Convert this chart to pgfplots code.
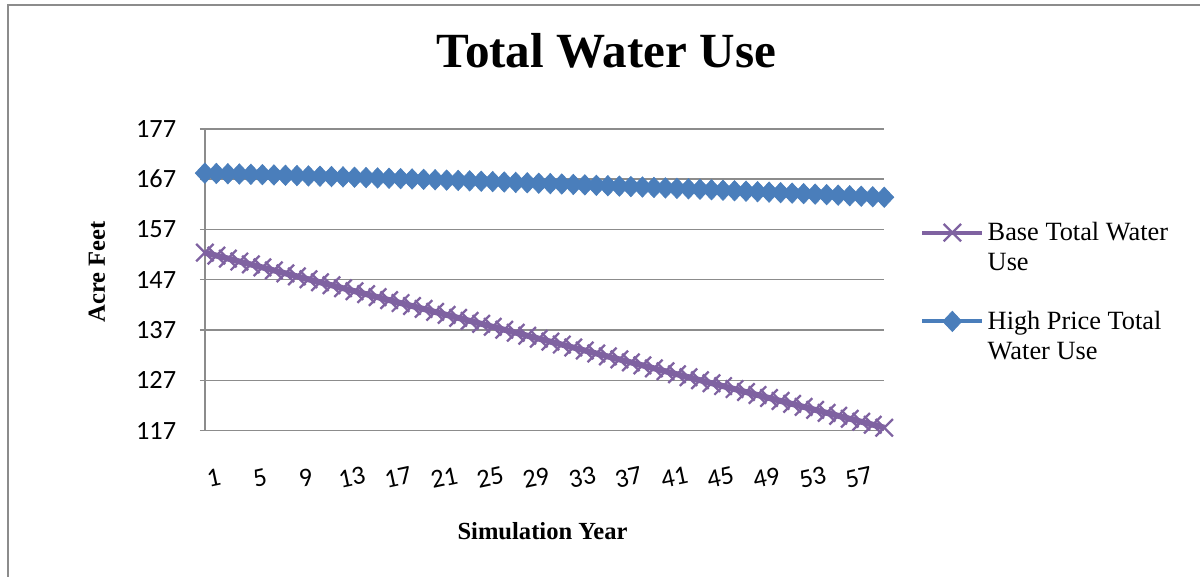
\documentclass[border=0pt]{standalone}
\usepackage{fontspec}
\setmainfont{Liberation Serif}
\newfontfamily\carlito{Carlito}
\usepackage{pgfplots}
\pgfplotsset{compat=1.18}
\usepackage{pgfplotstable}

\definecolor{basepurple}{HTML}{7F62A1}
\definecolor{highblue}{HTML}{4A7EBB}
\definecolor{gridgray}{HTML}{8C8C8C}

% year, base, high price
\pgfplotstableread{
year base high
1 152.40 168.20
2 151.81 168.14
3 151.22 168.08
4 150.63 168.03
5 150.04 167.97
6 149.45 167.90
7 148.86 167.84
8 148.27 167.78
9 147.68 167.72
10 147.09 167.65
11 146.50 167.59
12 145.91 167.52
13 145.32 167.46
14 144.73 167.39
15 144.14 167.32
16 143.55 167.25
17 142.96 167.18
18 142.37 167.11
19 141.78 167.04
20 141.19 166.97
21 140.60 166.89
22 140.01 166.82
23 139.42 166.75
24 138.83 166.67
25 138.24 166.59
26 137.65 166.52
27 137.06 166.44
28 136.47 166.36
29 135.88 166.28
30 135.29 166.20
31 134.70 166.12
32 134.11 166.04
33 133.52 165.95
34 132.93 165.87
35 132.34 165.78
36 131.75 165.70
37 131.16 165.61
38 130.57 165.53
39 129.98 165.44
40 129.39 165.35
41 128.80 165.26
42 128.21 165.17
43 127.62 165.08
44 127.03 164.99
45 126.44 164.89
46 125.85 164.80
47 125.26 164.70
48 124.67 164.61
49 124.08 164.51
50 123.49 164.42
51 122.90 164.32
52 122.31 164.22
53 121.72 164.12
54 121.13 164.02
55 120.54 163.92
56 119.95 163.82
57 119.36 163.71
58 118.77 163.61
59 118.18 163.50
60 117.59 163.40
}\water

\begin{document}
\begin{tikzpicture}
% page frame (only left and top edges show)
\path (0,0) rectangle (24.02,11.54);
\draw[gridgray, line width=1.2pt] (0.16,0) -- (0.16,11.44) -- (24.02,11.44);

\begin{axis}[
    at={(4.10cm,2.92cm)}, anchor=south west,
    scale only axis,
    width=13.6cm, height=6.04cm,
    xmin=1, xmax=60,
    ymin=117, ymax=177,
    xtick={1,5,...,57},
    ytick={117,127,...,177},
    axis x line*=bottom,
    axis y line*=left,
    axis line style={gridgray, line width=0.8pt},
    ymajorgrids,
    grid style={gridgray, line width=0.8pt},
    xtick style={draw=none},
    ytick style={gridgray, line width=0.8pt},
    major tick length=0.1cm,
    tick align=outside,
    /pgf/number format/assume math mode=true,
    tick label style={font=\carlito\fontsize{15}{17}\selectfont},
    yticklabel style={xshift=-0.35cm},
    xticklabel style={rotate=12, anchor=center, yshift=-0.86cm},
    clip=false,
    legend style={draw=none, fill=none, at={(1.045,0.715)}, anchor=north west,
        cells={align=left, anchor=west}, font=\fontsize{15}{17}\selectfont,
        row sep=0.62cm},
    legend cell align=left,
    legend image code/.code={
        \draw[mark repeat=2, mark phase=2, yshift=0.3cm, line width=2.2pt] plot coordinates {(0cm,0cm) (0.6cm,0cm) (1.2cm,0cm)};
    },
]
\addplot[basepurple, line width=3.4pt, mark=x, mark size=7pt,
    mark options={line width=1.3pt}] table[x=year, y=base] {\water};
\addlegendentry{Base Total Water\\Use}
\addplot[highblue, line width=3.4pt, mark=diamond*, mark size=5.8pt,
    mark options={line width=0.4pt, fill=highblue, xscale=1.25}] table[x=year, y=high] {\water};
\addlegendentry{High Price Total\\Water Use}
\end{axis}

\node[anchor=base, font=\bfseries\fontsize{28}{32}\selectfont] at (12.14,10.18) {Total Water Use};
\node[font=\bfseries\fontsize{14}{16}\selectfont] at (10.86,0.90) {Simulation Year};
\node[rotate=90, font=\bfseries\fontsize{14}{16}\selectfont] at (1.94,6.10) {Acre Feet};
\end{tikzpicture}
\end{document}
